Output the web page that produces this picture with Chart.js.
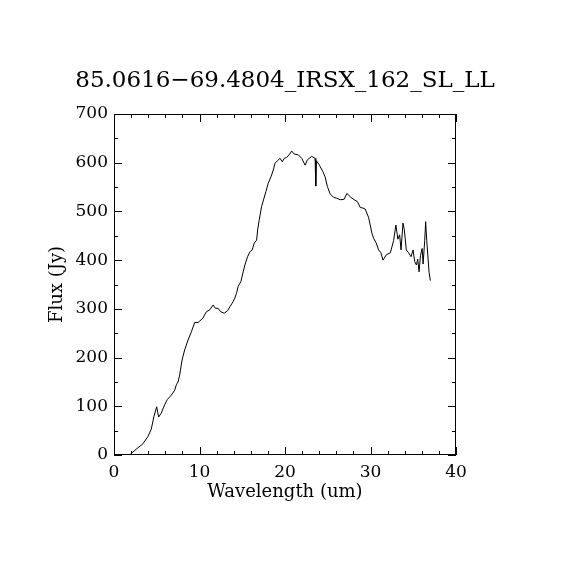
<!DOCTYPE html>
<html>
<head>
<meta charset="utf-8">
<script src="https://cdn.jsdelivr.net/npm/chart.js@4"></script>
<style>
  html, body { margin: 0; padding: 0; background: #fff; }
  canvas { display: block; }
</style>
</head>
<body>
<canvas id="c" width="570" height="570"></canvas>
<script>
const chartTitle = '85.0616\u221269.4804_IRSX_162_SL_LL';
const xTitle = 'Wavelength (um)';
const yTitle = 'Flux (Jy)';

const wavelength = [1.82,2.6,3.38,3.97,4.36,4.67,4.99,5.22,5.53,5.92,6.24,6.71,7.1,7.29,7.49,7.68,7.96,8.27,8.66,9.05,9.44,9.83,10.03,10.4,10.8,11.2,11.6,11.87,12.18,12.49,12.88,13.27,13.55,13.94,14.13,14.33,14.52,14.84,15.11,15.31,15.62,15.89,16.16,16.4,16.68,16.8,16.99,17.26,17.54,17.77,18.04,18.36,18.63,18.83,19.14,19.41,19.68,19.92,20.2,20.47,20.78,21.06,21.56,21.96,22.35,22.62,23.13,23.52,23.6,23.68,24.02,24.42,24.69,24.96,25.28,25.67,26.06,26.45,26.92,27.24,27.7,28.09,28.48,28.8,29.11,29.38,29.77,30.17,30.36,30.67,30.95,31.22,31.46,31.85,32.32,32.7,32.97,33.2,33.41,33.57,33.8,33.96,34.19,34.46,34.74,34.98,35.17,35.37,35.52,35.68,35.84,36.04,36.15,36.34,36.45,36.58,36.7,36.85,37.0];
const flux = [0,12,23,38,53,79,99,78,86,103,114,123,133,144,150,164,195,216,236,253,272,272,275,281,294,298,308,301,301,294,291,296,304,315,322,332,346,356,376,390,407,417,421,435,441,462,483,510,527,541,558,571,585,599,604,609,602,609,611,616,624,618,616,609,595,606,613,609,552,604,595,582,571,551,536,529,527,524,525,537,529,524,520,508,507,505,488,455,445,435,421,415,400,411,415,440,472,443,452,421,476,462,421,415,407,421,397,390,402,376,409,424,392,440,479,440,411,375,358];

const xMajorTicks = [0,10,20,30,40];
const xMinorTicks = [2,4,6,8,12,14,16,18,22,24,26,28,32,34,36,38];
const yMajorTicks = [0,100,200,300,400,500,600,700];
const yMinorTicks = [50,150,250,350,450,550,650];

const points = wavelength.map((w, i) => ({x: w, y: flux[i]}));

const FONT = 'DejaVu Serif';

const frameTicks = {
  id: 'frameTicks',
  afterDraw(chart) {
    const {ctx, chartArea: a, scales: {x, y}} = chart;
    ctx.save();
    ctx.strokeStyle = '#000';
    ctx.lineWidth = 1;
    ctx.strokeRect(a.left + 0.5, a.top + 0.5, a.right - a.left - 1, a.bottom - a.top - 1);
    ctx.beginPath();
    const xt = (vals, len) => vals.forEach(v => {
      const px = Math.round(x.getPixelForValue(v)) + 0.5;
      ctx.moveTo(px, a.bottom); ctx.lineTo(px, a.bottom - len);
      ctx.moveTo(px, a.top); ctx.lineTo(px, a.top + len);
    });
    const yt = (vals, len) => vals.forEach(v => {
      const py = Math.round(y.getPixelForValue(v)) + 0.5;
      ctx.moveTo(a.left, py); ctx.lineTo(a.left + len, py);
      ctx.moveTo(a.right, py); ctx.lineTo(a.right - len, py);
    });
    xt(xMajorTicks, 8); xt(xMinorTicks, 4);
    yt(yMajorTicks, 8); yt(yMinorTicks, 4);
    ctx.stroke();
    ctx.restore();
  }
};

new Chart(document.getElementById('c'), {
  type: 'line',
  data: {
    datasets: [{
      data: points,
      borderColor: '#000',
      borderWidth: 1,
      pointRadius: 0,
      tension: 0,
      fill: false
    }]
  },
  options: {
    responsive: false,
    devicePixelRatio: 1,
    animation: false,
    layout: { padding: 0 },
    plugins: {
      legend: { display: false },
      tooltip: { enabled: false },
      title: {
        display: true,
        text: chartTitle,
        color: '#000',
        font: { family: FONT, size: 23, weight: 'normal', lineHeight: 1.2 },
        padding: { top: 67, bottom: 19.4 }
      }
    },
    scales: {
      x: {
        type: 'linear',
        min: 0, max: 40,
        afterFit(s) { s.height = 115; },
        afterBuildTicks(s) { s.ticks = xMajorTicks.map(v => ({value: v})); },
        grid: { display: false, drawTicks: false },
        border: { display: false },
        ticks: { color: '#000', padding: 7, maxRotation: 0, font: { family: FONT, size: 17 } },
        title: { display: true, text: xTitle, color: '#000', padding: { top: 0, bottom: 67 }, font: { family: FONT, size: 18, lineHeight: 1.2 } }
      },
      y: {
        type: 'linear',
        min: 0, max: 700,
        afterFit(s) { s.width = 114; },
        afterBuildTicks(s) { s.ticks = yMajorTicks.map(v => ({value: v})); },
        grid: { display: false, drawTicks: false },
        border: { display: false },
        ticks: { color: '#000', padding: 6, font: { family: FONT, size: 17 } },
        title: { display: true, text: yTitle, color: '#000', padding: { top: 47, bottom: 0 }, font: { family: FONT, size: 18, lineHeight: 1.2 } }
      },
      yRight: {
        type: 'linear',
        position: 'right',
        display: true,
        min: 0, max: 700,
        afterFit(s) { s.width = 114; },
        grid: { display: false, drawTicks: false },
        border: { display: false },
        ticks: { display: false }
      }
    }
  },
  plugins: [frameTicks]
});
</script>
</body>
</html>
